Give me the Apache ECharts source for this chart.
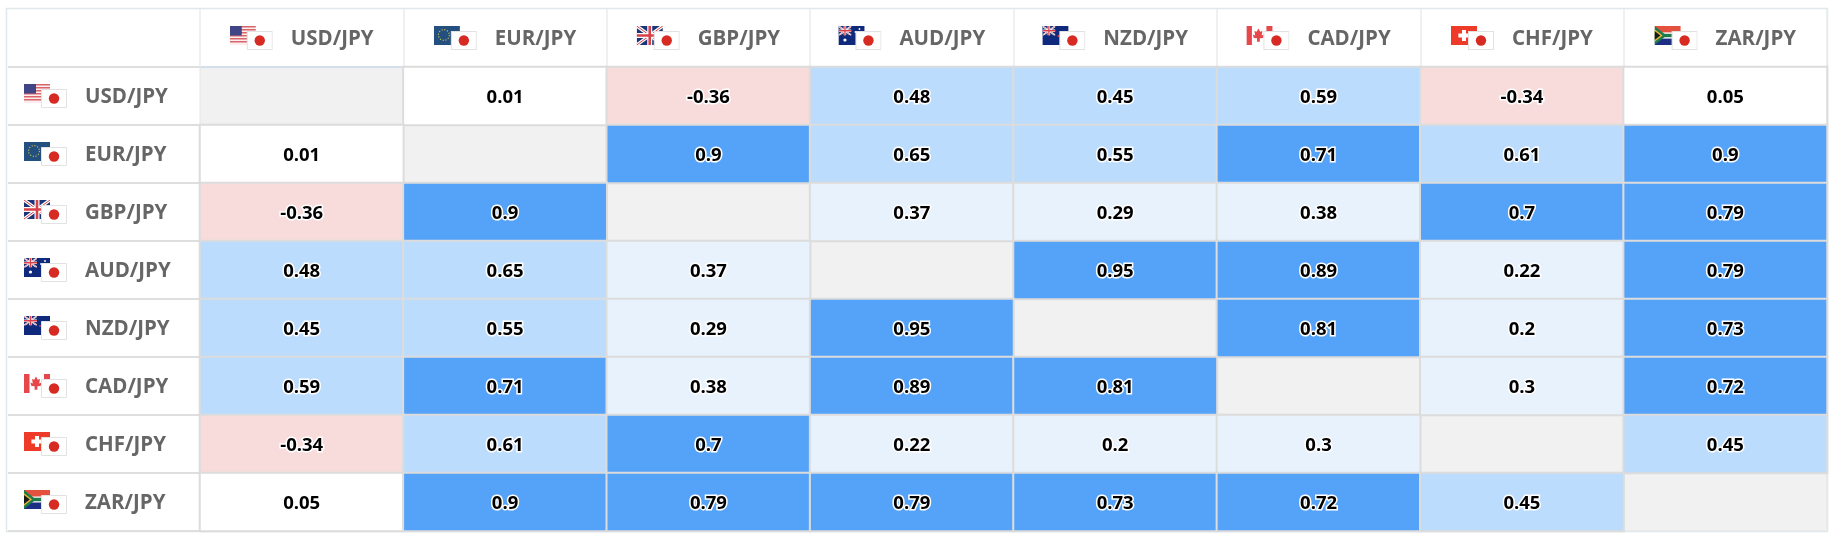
<!DOCTYPE html>
<html><head><meta charset="utf-8">
<style>html,body{margin:0;padding:0;background:#fff}#c{width:1836px;height:542px}</style>
<script src="https://cdn.jsdelivr.net/npm/echarts@6/dist/echarts.min.js"></script>
</head><body><div id="c"></div>
<script>
const pairs = ['USD/JPY','EUR/JPY','GBP/JPY','AUD/JPY','NZD/JPY','CAD/JPY','CHF/JPY','ZAR/JPY'];
const usdRow = [null,0.01,-0.36,0.48,0.45,0.59,-0.34,0.05];
const eurRow = [0.01,null,0.9,0.65,0.55,0.71,0.61,0.9];
const gbpRow = [-0.36,0.9,null,0.37,0.29,0.38,0.7,0.79];
const audRow = [0.48,0.65,0.37,null,0.95,0.89,0.22,0.79];
const nzdRow = [0.45,0.55,0.29,0.95,null,0.81,0.2,0.73];
const cadRow = [0.59,0.71,0.38,0.89,0.81,null,0.3,0.72];
const chfRow = [-0.34,0.61,0.7,0.22,0.2,0.3,null,0.45];
const zarRow = [0.05,0.9,0.79,0.79,0.73,0.72,0.45,null];
const rows = [usdRow,eurRow,gbpRow,audRow,nzdRow,cadRow,chfRow,zarRow];

// Small decorative flag artwork, 26x19 for the base currency
const stripes = [0,3,6,9,12,15].map(y=>`<rect y="${y}" width="26" height="1.5" fill="#d9656b"/>`).join('');
const ukJack = `<rect width="26" height="19" fill="#1c3578"/><path d="M0 0L26 19M26 0L0 19" stroke="#fff" stroke-width="3.4"/><path d="M0 0L26 19M26 0L0 19" stroke="#d8404a" stroke-width="1"/><path d="M13 0V19M0 9.5H26" stroke="#fff" stroke-width="5"/><path d="M13 0V19M0 9.5H26" stroke="#d8404a" stroke-width="2.6"/>`;
const ukSmall = `<svg x="0" y="0" width="13" height="9.5" viewBox="0 0 26 19">${ukJack}</svg>`;
const baseFlags = {
  USD: `<rect width="26" height="19" fill="#fbeeee"/>${stripes}<rect width="12" height="9.5" fill="#3f4585"/>`,
  EUR: `<rect width="26" height="19" fill="#24507f"/><circle cx="10" cy="9" r="5.4" fill="none" stroke="#d8c64a" stroke-width="1.1" stroke-dasharray="1.1 1.7"/>`,
  GBP: ukJack,
  AUD: `<rect width="26" height="19" fill="#0f2a7c"/>${ukSmall}<circle cx="6.5" cy="14" r="1.6" fill="#fff"/><circle cx="17" cy="6" r=".9" fill="#fff"/><circle cx="21" cy="3" r=".9" fill="#fff"/>`,
  NZD: `<rect width="26" height="19" fill="#0f2a7c"/>${ukSmall}<circle cx="16" cy="10" r=".9" fill="#d8404a"/><circle cx="22" cy="6" r=".9" fill="#d8404a"/>`,
  CAD: `<rect width="26" height="19" fill="#fff"/><rect width="5.5" height="19" fill="#e5474a"/><rect x="20" width="6" height="19" fill="#e5474a"/><path d="M12 2.5l1.8 3.2 2.2-.8-.8 4.6 2.4-1-1 3.4-3.2.3v3.6h-2.8v-3.6l-3.2-.3-1-3.4 2.4 1-.8-4.6 2.2.8z" fill="#e5474a"/>`,
  CHF: `<rect width="26" height="19" fill="#ee3a28"/><path d="M11 4h4v3.6h3.6v3.8H15V15h-4v-3.6H7.4V7.6H11z" fill="#fff"/>`,
  ZAR: `<rect width="26" height="9.5" fill="#e4513f"/><rect y="9.5" width="26" height="9.5" fill="#1c2f85"/><rect y="6.4" width="26" height="6.2" fill="#fff"/><rect y="7.8" width="26" height="3.4" fill="#1e7c4b"/><path d="M0 0L12 9.5L0 19z" fill="#1e7c4b"/><path d="M0 3.2L8 9.5L0 15.8z" fill="#e9b93a"/><path d="M0 5L5.8 9.5L0 14z" fill="#1a1a1a"/>`
};
function flagUri(code){
  const svg = `<svg xmlns="http://www.w3.org/2000/svg" width="86" height="48" viewBox="0 0 43 24"><g>${baseFlags[code]}</g><rect x="17.5" y="5.5" width="25" height="18" fill="#fff" stroke="#e2e2e2"/><circle cx="30" cy="14.5" r="5.2" fill="#d62a22"/></svg>`;
  return 'data:image/svg+xml;charset=utf-8,' + encodeURIComponent(svg);
}

const rich = { t:{ fontFamily:'"Open Sans",sans-serif', fontSize:20.5, fontWeight:'bold', color:'#666', padding:[2,0,0,18], lineHeight:24 } };
pairs.forEach(p=>{ const c=p.slice(0,3); rich[c]={ width:43, height:24, backgroundColor:{image:flagUri(c)} }; });
const labelFmt = v => `{${v.slice(0,3)}|}{t|${v}}`;

const cells = [];
rows.forEach((r,y)=>r.forEach((v,x)=>{ if(v!==null) cells.push([x,y,v]); }));

const chart = echarts.init(document.getElementById('c'),null,{renderer:'canvas'});
chart.setOption({
  animation:false,
  backgroundColor:'#fff',
  grid:{left:200,right:9,top:67,bottom:11,show:true,backgroundColor:'#f1f1f1',borderColor:'#e6e6e6',borderWidth:1},
  graphic:[{type:'rect',silent:true,z:0,shape:{x:6.5,y:8.5,width:1821,height:523},style:{fill:'none',stroke:'#dfe8ea',lineWidth:1.5}}],
  xAxis:{type:'category',position:'top',data:pairs,
    axisLine:{show:true,lineStyle:{color:'#d4dfec',width:2}},
    axisTick:{show:true,length:58,alignWithLabel:false,interval:0,lineStyle:{color:'#ebebeb',width:1.5}},
    axisLabel:{interval:0,margin:29,align:'center',verticalAlign:'middle',formatter:labelFmt,rich},
    splitLine:{show:false}},
  yAxis:{type:'category',inverse:true,data:pairs,
    axisLine:{show:false},
    axisTick:{show:true,length:192,alignWithLabel:false,interval:0,lineStyle:{color:'#dedede',width:2}},
    axisLabel:{interval:0,margin:176,align:'left',formatter:labelFmt,rich},
    splitLine:{show:false}},
  visualMap:{show:false,type:'piecewise',dimension:2,seriesIndex:0,pieces:[
    {lt:0,color:'#f8dcdc'},
    {gte:0,lt:0.2,color:'#ffffff'},
    {gte:0.2,lt:0.4,color:'#e8f2fc'},
    {gte:0.4,lt:0.7,color:'#bbdcfd'},
    {gte:0.7,color:'#55a3f9'}]},
  series:[{type:'heatmap',data:cells,
    itemStyle:{borderColor:'#dcdcdc',borderWidth:2},
    label:{show:true,offset:[0,2],formatter:p=>String(p.value[2]),color:'#000',fontFamily:'"Open Sans",sans-serif',fontWeight:'bold',fontSize:18.5,textBorderColor:'#fff',textBorderWidth:3}}]
});
</script></body></html>
